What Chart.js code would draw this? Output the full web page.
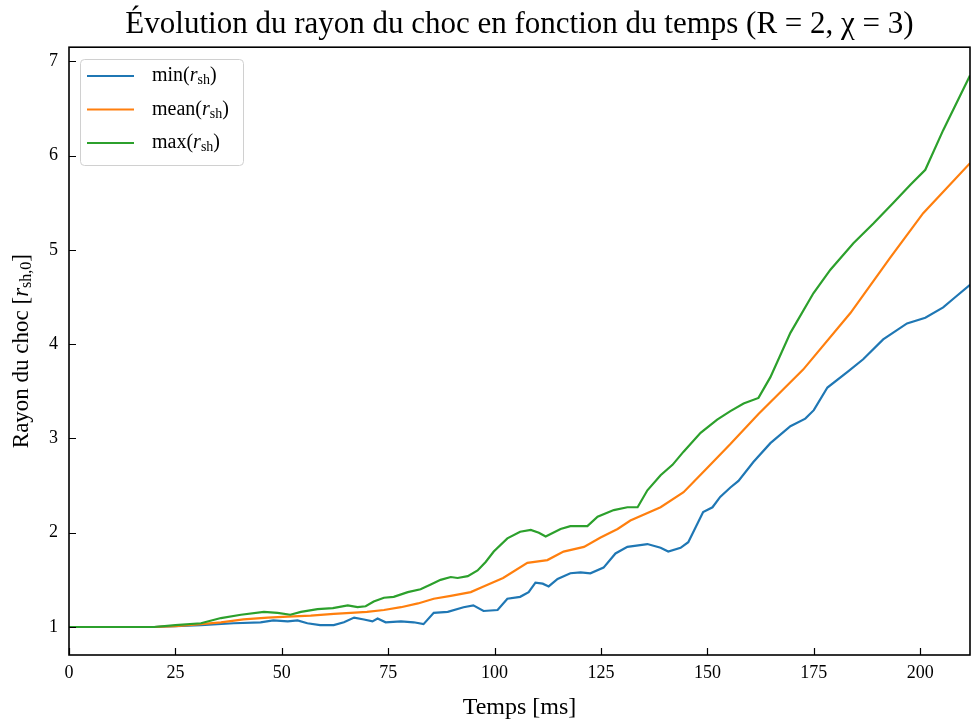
<!DOCTYPE html>
<html>
<head>
<meta charset="utf-8">
<script src="https://cdn.jsdelivr.net/npm/chart.js@4/dist/chart.umd.min.js"></script>
<style>
  body { margin: 0; background: #fff; }
  canvas { display: block; }
</style>
</head>
<body>
<canvas id="app" width="975" height="725"></canvas>
<script>
// values
const tMin = [0, 20, 25, 31, 38.7, 45, 48, 51.4, 53.7, 56, 59, 62.2, 64.6, 67, 69.3, 71.3, 72.5, 74.4, 78, 81, 83.3, 85.7, 89, 92.7, 95, 97.4, 100.7, 103, 106, 108, 109.6, 111.3, 112.7, 114.8, 117.8, 120.2, 122.5, 125.6, 128.4, 131.2, 135.9, 139, 140.8, 143.7, 145.5, 149, 151.2, 153, 155.4, 157.3, 160.8, 164.8, 169.5, 173, 175, 178.2, 183, 186.6, 191.3, 196.9, 201.2, 205.4, 208, 211.7];
const rMin = [1.0, 1.0, 1.01, 1.02, 1.04, 1.05, 1.07, 1.06, 1.07, 1.04, 1.02, 1.02, 1.05, 1.10, 1.08, 1.06, 1.09, 1.05, 1.06, 1.05, 1.03, 1.15, 1.16, 1.21, 1.23, 1.17, 1.18, 1.30, 1.32, 1.37, 1.47, 1.46, 1.43, 1.51, 1.57, 1.58, 1.57, 1.63, 1.78, 1.85, 1.88, 1.84, 1.80, 1.84, 1.90, 2.22, 2.27, 2.38, 2.48, 2.55, 2.75, 2.95, 3.13, 3.21, 3.30, 3.54, 3.71, 3.84, 4.05, 4.22, 4.28, 4.39, 4.49, 4.63];

const tMean = [0, 20, 25, 31, 35.7, 41, 46.7, 51.4, 56.8, 62.2, 66.2, 70, 74, 78, 82, 85.7, 89.7, 94.4, 97.4, 102, 107.7, 112.4, 116.2, 121, 124.9, 128.9, 131.9, 139, 144.4, 150, 155.4, 162, 172.5, 183.6, 193, 200.7, 211.7];
const rMean = [1.0, 1.0, 1.01, 1.03, 1.05, 1.08, 1.10, 1.11, 1.12, 1.14, 1.15, 1.16, 1.18, 1.21, 1.25, 1.30, 1.33, 1.37, 1.43, 1.52, 1.68, 1.71, 1.80, 1.85, 1.95, 2.04, 2.13, 2.27, 2.43, 2.69, 2.94, 3.26, 3.73, 4.33, 4.92, 5.39, 5.92];

const tMax = [0, 20, 25, 31, 35.7, 40.4, 45.8, 49, 52, 54.5, 58.4, 62, 65.5, 67.8, 69.7, 71.6, 74, 76.3, 79.6, 82.6, 85, 87.3, 89.7, 91.3, 93.7, 96, 97.9, 99.8, 103, 106, 108.5, 110.4, 112, 115.5, 117.8, 121.8, 124.2, 128, 131.2, 133.6, 135.9, 139, 141.8, 144.4, 148.4, 152.3, 155.4, 158.5, 162, 164.8, 169.5, 174.9, 178.9, 184.3, 189, 193.7, 197.7, 201.2, 205.4, 211.7];
const rMax = [1.0, 1.0, 1.02, 1.04, 1.095, 1.13, 1.16, 1.15, 1.13, 1.16, 1.19, 1.20, 1.23, 1.21, 1.22, 1.27, 1.31, 1.32, 1.37, 1.40, 1.45, 1.50, 1.53, 1.52, 1.54, 1.60, 1.69, 1.80, 1.94, 2.01, 2.03, 2.00, 1.96, 2.04, 2.07, 2.07, 2.17, 2.24, 2.27, 2.27, 2.45, 2.61, 2.72, 2.86, 3.06, 3.20, 3.29, 3.37, 3.43, 3.65, 4.12, 4.54, 4.79, 5.07, 5.28, 5.50, 5.69, 5.85, 6.27, 6.85];

const xTicks = [0, 25, 50, 75, 100, 125, 150, 175, 200];
const yTicks = [1, 2, 3, 4, 5, 6, 7];
const seriesNames = ['min', 'mean', 'max'];
const colors = ['#1f77b4', '#ff7f0e', '#2ca02c'];

const FONT = '"Liberation Serif", "DejaVu Serif", serif';

const toPoints = (ts, rs) => ts.map((t, i) => ({ x: t, y: rs[i] }));

// draws "prefix r_sub suffix" with italic r and a subscript
function richText(ctx, x, y, prefix, sub, suffix, size, measureOnly) {
  const subSize = Math.round(size * 0.68);
  const parts = [
    { t: prefix, f: `${size}px ${FONT}`, dy: 0 },
    { t: 'r', f: `italic ${size}px ${FONT}`, dy: 0 },
    { t: sub, f: `${subSize}px ${FONT}`, dy: size * 0.22 },
    { t: suffix, f: `${size}px ${FONT}`, dy: 0 },
  ];
  let w = 0;
  parts.forEach(p => { ctx.font = p.f; w += ctx.measureText(p.t).width; });
  if (measureOnly) return w;
  let cx = x;
  parts.forEach(p => {
    ctx.font = p.f;
    ctx.fillText(p.t, cx, y + p.dy);
    cx += ctx.measureText(p.t).width;
  });
  return w;
}

const decorations = {
  id: 'decorations',
  afterDraw(chart) {
    const { ctx, chartArea: a, scales } = chart;
    ctx.save();
    ctx.strokeStyle = '#000';
    ctx.fillStyle = '#000';

    // inward ticks
    ctx.lineWidth = 1.2;
    ctx.beginPath();
    xTicks.forEach(v => {
      const px = Math.round(scales.x.getPixelForValue(v)) + 0.5;
      ctx.moveTo(px, a.bottom);
      ctx.lineTo(px, a.bottom - 7);
    });
    yTicks.forEach(v => {
      const py = Math.round(scales.y.getPixelForValue(v)) + 0.5;
      ctx.moveTo(a.left, py);
      ctx.lineTo(a.left + 7, py);
    });
    ctx.stroke();

    // frame
    ctx.lineWidth = 1.6;
    ctx.strokeRect(a.left, a.top, a.right - a.left, a.bottom - a.top);

    // y axis title
    ctx.save();
    ctx.translate(22, (a.top + a.bottom) / 2);
    ctx.rotate(-Math.PI / 2);
    ctx.textBaseline = 'middle';
    const w = richText(ctx, 0, 0, 'Rayon du choc [', 'sh,0', ']', 23, true);
    richText(ctx, -w / 2, 0, 'Rayon du choc [', 'sh,0', ']', 23);
    ctx.restore();

    // legend
    const bx = 80, by = 59, bw = 163, bh = 106;
    ctx.beginPath();
    ctx.roundRect(bx + 0.5, by + 0.5, bw, bh, 4);
    ctx.fillStyle = 'rgba(255,255,255,0.8)';
    ctx.fill();
    ctx.strokeStyle = '#d0d0d0';
    ctx.lineWidth = 1;
    ctx.stroke();
    ctx.textBaseline = 'middle';
    seriesNames.forEach((name, i) => {
      const ly = 76 + i * 33.5;
      ctx.strokeStyle = colors[i];
      ctx.lineWidth = 2.2;
      ctx.beginPath();
      ctx.moveTo(87, ly);
      ctx.lineTo(134, ly);
      ctx.stroke();
      ctx.fillStyle = '#000';
      richText(ctx, 152, ly, name + '(', 'sh', ')', 20);
    });
    ctx.restore();
  }
};

const datasets = [
  { label: 'min', data: toPoints(tMin, rMin), order: 3 },
  { label: 'mean', data: toPoints(tMean, rMean), order: 2 },
  { label: 'max', data: toPoints(tMax, rMax), order: 1 },
].map((d, i) => ({
  ...d,
  borderColor: colors[i],
  backgroundColor: colors[i],
  borderWidth: 2.2,
  pointRadius: 0,
  tension: 0,
  fill: false,
}));

new Chart(document.getElementById('app'), {
  type: 'line',
  data: { datasets },
  options: {
    responsive: false,
    animation: false,
    maintainAspectRatio: false,
    layout: { padding: { left: 0, right: 5, top: 0, bottom: 0 } },
    plugins: {
      legend: { display: false },
      tooltip: { enabled: false },
      title: {
        display: true,
        fullSize: false,
        text: 'Évolution du rayon du choc en fonction du temps (R = 2, χ = 3)',
        color: '#000',
        font: { family: FONT, size: 31, weight: 'normal' },
        padding: { top: 6, bottom: 4 },
      },
    },
    scales: {
      x: {
        type: 'linear',
        min: 0,
        max: 211.7,
        afterFit: s => { s.height = 70; },
        afterBuildTicks: s => { s.ticks = xTicks.map(v => ({ value: v })); },
        grid: { display: false, drawTicks: false },
        border: { display: false },
        ticks: { color: '#000', padding: 7, maxRotation: 0, font: { family: FONT, size: 18 } },
        title: {
          display: true,
          text: 'Temps [ms]',
          color: '#000',
          font: { family: FONT, size: 24 },
          padding: { top: 0, bottom: 3 },
        },
      },
      y: {
        type: 'linear',
        min: 0.703,
        max: 7.15,
        afterFit: s => { s.width = 69; },
        afterBuildTicks: s => { s.ticks = yTicks.map(v => ({ value: v })); },
        grid: { display: false, drawTicks: false },
        border: { display: false },
        ticks: { color: '#000', padding: 11, font: { family: FONT, size: 18 } },
      },
    },
  },
  plugins: [decorations],
});
</script>
</body>
</html>
